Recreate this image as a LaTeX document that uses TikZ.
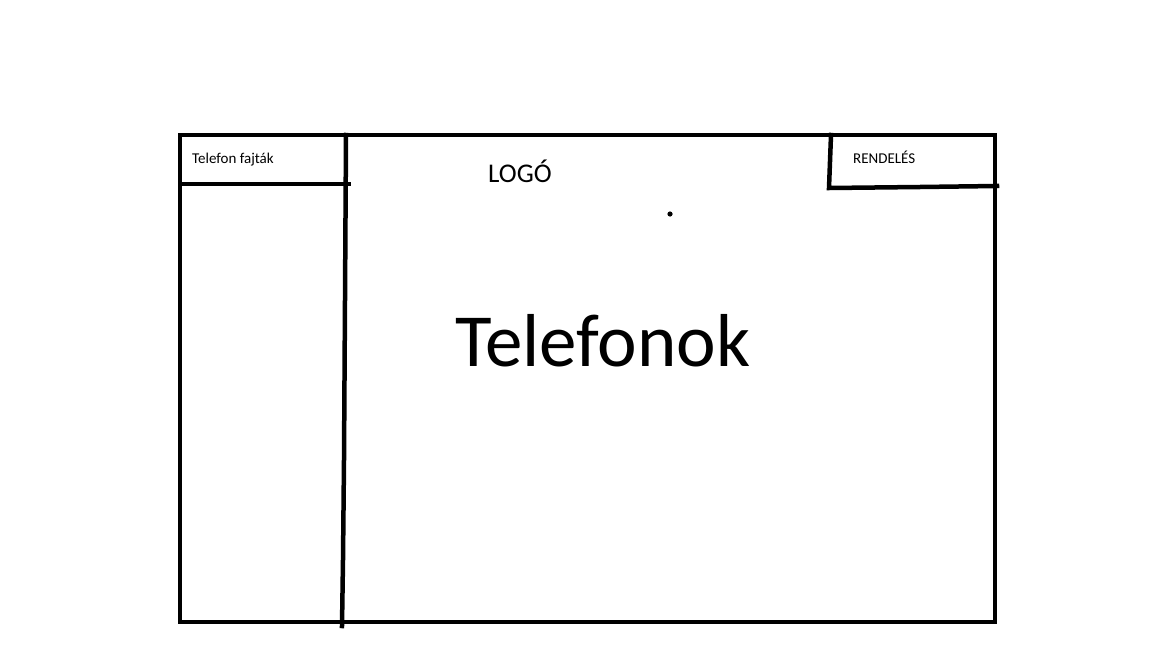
\documentclass[tikz,border=0pt]{standalone}
\usepackage{fontspec}
\setmainfont{Carlito}
\begin{document}
\begin{tikzpicture}[x=1pt,y=-1pt,
  stroke/.style={line width=4.5pt,line cap=rect},
  lbl/.style={anchor=base west,inner sep=0pt,text=black}]
\useasboundingbox[fill=white] (0,0) rectangle (1152,648);
% outer frame
\draw[stroke] (180,135) rectangle (995,622);
% left column divider (hand drawn)
\coordinate (lt) at (346,135);
\coordinate (lb) at (342,626);
\draw[stroke] (lt) -- (345,300) -- (344,460) -- (343,560) -- (lb);
% left header line
\coordinate (lh1) at (180,184);
\coordinate (lh2) at (349,184);
\draw[stroke] (lh1) -- (lh2);
% right header box
\coordinate (rt) at (831,135);
\coordinate (rb) at (829,188);
\coordinate (rr) at (997,186);
\draw[stroke] (rt) -- (rb) -- (920,187) -- (rr);
% dot
\fill (670,214) circle (2.6);
% texts
\node[lbl,font=\fontsize{15}{18}\selectfont] (fajtak) at (192,163) {Telefon fajták};
\node[lbl,font=\fontsize{15}{18}\selectfont] (rendeles) at (853,163) {RENDELÉS};
\node[lbl,font=\fontsize{27}{32}\selectfont] (logo) at (488,182) {LOGÓ};
\node[lbl,font=\fontsize{75}{90}\selectfont] (telefonok) at (455,366) {Telefonok};
\end{tikzpicture}
\end{document}
